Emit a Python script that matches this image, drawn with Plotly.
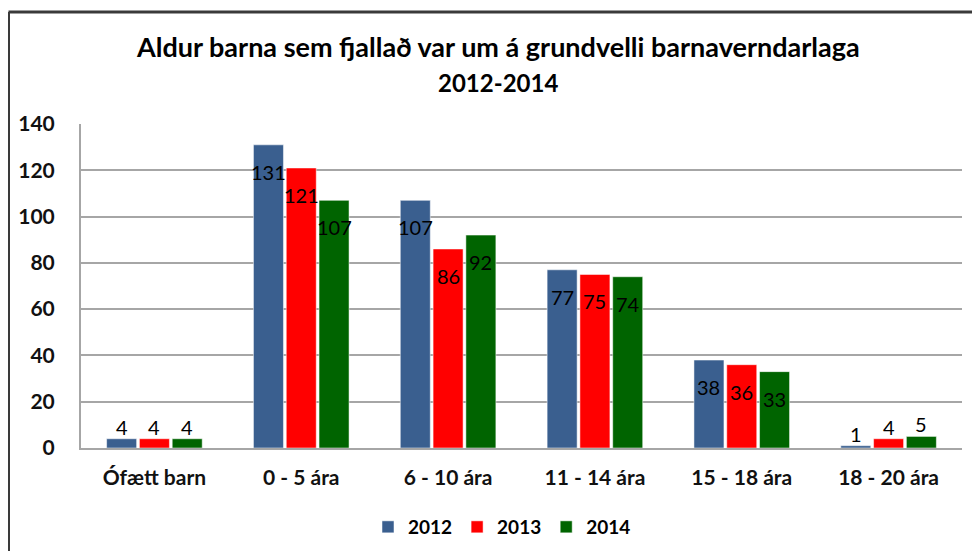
import plotly.graph_objects as go

categories = ["Ófætt barn", "0 - 5 ára", "6 - 10 ára", "11 - 14 ára", "15 - 18 ára", "18 - 20 ára"]
series_names = ["2012", "2013", "2014"]
values_2012 = [4, 131, 107, 77, 38, 1]
values_2013 = [4, 121, 86, 75, 36, 4]
values_2014 = [4, 107, 92, 74, 33, 5]
y_ticks = [0, 20, 40, 60, 80, 100, 120, 140]

colors = ["#3A5F8F", "#FF0000", "#006400"]
all_values = [values_2012, values_2013, values_2014]

W, H = 980, 551
OFF = 8  # page body margin offset
# target screen positions of plot area
P_LEFT, P_RIGHT, P_TOP, P_BOTTOM = 81, 962, 124, 448
ML = P_LEFT - OFF
MT = P_TOP - OFF
MR = W - (P_RIGHT - OFF)
MB = H - (P_BOTTOM - OFF)
plot_w = W - ML - MR
plot_h = H - MT - MB
BARGAP = 0.33
BARGROUPGAP = 0.085
FONT = "Lato"

fig = go.Figure()
for name, vals, col in zip(series_names, all_values, colors):
    fig.add_trace(go.Bar(
        x=categories, y=vals, name=name,
        marker=dict(color=col, line=dict(color="rgba(255,255,255,0.5)", width=1)),
        hoverinfo="x+y+name",
    ))

# data labels
slot_px = plot_w / len(categories) * (1 - BARGAP) / len(series_names)
annotations = []
for j, vals in enumerate(all_values):
    for cat, v in zip(categories, vals):
        inside = v > 20
        annotations.append(dict(
            x=cat, y=v, xref="x", yref="y", text=str(v), showarrow=False,
            xshift=(j - 1) * slot_px,
            yanchor="middle" if inside else "bottom",
            yshift=-27 if inside else -2,
            font=dict(family=FONT, size=20, color="#000000"),
        ))

# screen pixel -> paper coords
px_x = lambda p: (p - P_LEFT) / plot_w
px_y = lambda p: (P_BOTTOM - p) / plot_h

annotations.append(dict(
    x=px_x(497.5), y=px_y(46), xref="paper", yref="paper", showarrow=False,
    text="<b>Aldur barna sem fjallað var um á grundvelli barnaverndarlaga</b>",
    font=dict(family=FONT, size=27, color="#000000"), xanchor="center", yanchor="middle"))
annotations.append(dict(
    x=px_x(497.5), y=px_y(82), xref="paper", yref="paper", showarrow=False,
    text="<b>2012-2014</b>",
    font=dict(family=FONT, size=24, color="#000000"), xanchor="center", yanchor="middle"))

shapes = [
    dict(type="line", xref="paper", yref="paper", x0=px_x(8.5), x1=px_x(8.5), y0=px_y(600), y1=px_y(12),
         line=dict(color="#3a3a3a", width=3)),
    dict(type="line", xref="paper", yref="paper", x0=px_x(8.5), x1=px_x(1000), y0=px_y(12), y1=px_y(12),
         line=dict(color="#3a3a3a", width=3)),
]

fig.update_layout(
    width=W, height=H,
    margin=dict(l=ML, r=MR, t=MT, b=MB, autoexpand=False),
    paper_bgcolor="white", plot_bgcolor="white",
    barmode="group", bargap=BARGAP, bargroupgap=BARGROUPGAP,
    annotations=annotations, shapes=shapes,
    showlegend=True,
    legend=dict(orientation="h", x=px_x(502), y=px_y(527), xanchor="center", yanchor="middle",
                font=dict(family=FONT, size=19, color="#000000", weight="bold"),
                itemwidth=30, traceorder="normal"),
    font=dict(family=FONT),
)
fig.update_xaxes(
    showgrid=False, showline=True, linecolor="#a6a6a6", linewidth=2, automargin=False,
    tickfont=dict(family=FONT, size=21, color="#111111", weight="bold"),
    ticklabelstandoff=10,
)
fig.update_yaxes(
    range=[0, 140], tickvals=y_ticks, showgrid=True, gridcolor="#a6a6a6", gridwidth=2,
    showline=True, linecolor="#a6a6a6", linewidth=2, zeroline=False, automargin=False,
    tickfont=dict(family=FONT, size=21, color="#111111", weight="bold"),
    ticklabelstandoff=20,
)

fig.write_html("out.html")
